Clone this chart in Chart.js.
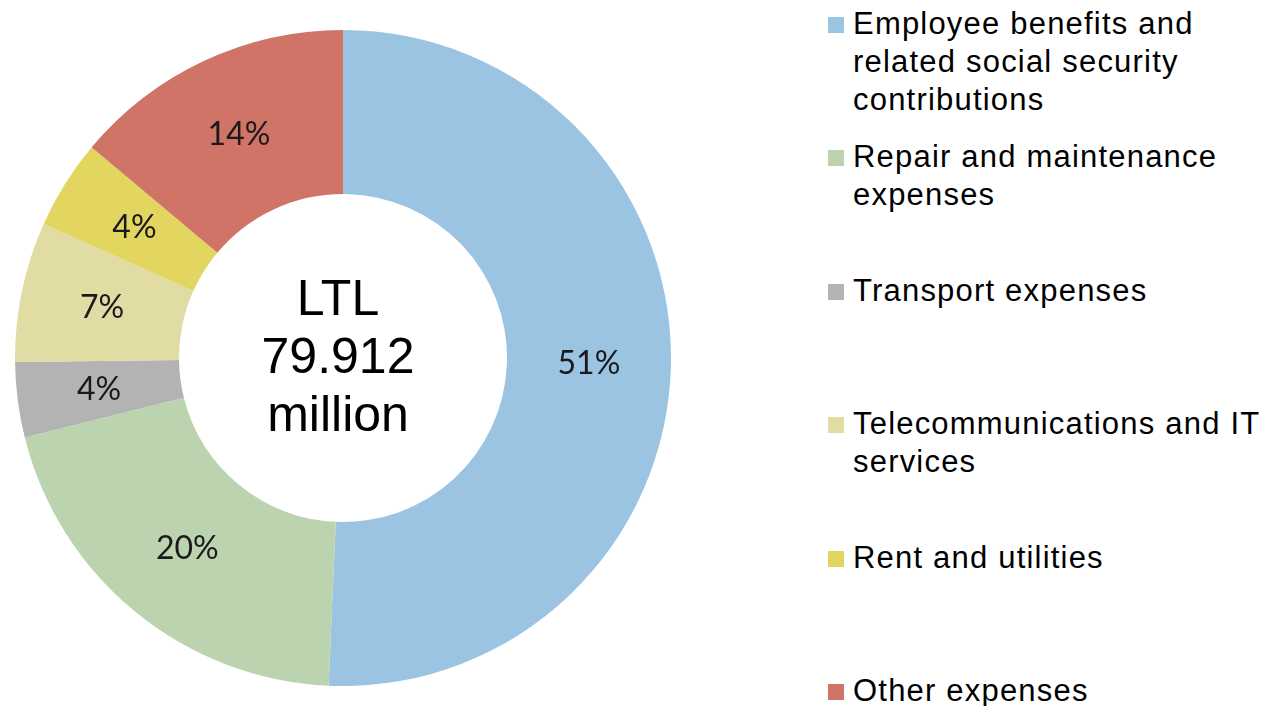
<!DOCTYPE html>
<html>
<head>
<meta charset="utf-8">
<script src="https://cdn.jsdelivr.net/npm/chart.js@4.4.0/dist/chart.umd.min.js"></script>
<style>
  html, body { margin: 0; padding: 0; background: #fff; }
  body { width: 1272px; height: 706px; position: relative; overflow: hidden; }
  #chartBox { position: absolute; left: 15px; top: 30px; width: 656px; height: 656px; }
  .legendItem { position: absolute; left: 828px; font-family: "Liberation Sans", Arial, sans-serif; font-size: 31px; line-height: 38px; letter-spacing: 1.2px; color: #000; }
  .legendItem .box { position: absolute; left: 0; top: 12px; width: 16px; height: 16px; }
  .legendItem .txt { margin-left: 25px; white-space: pre; }
</style>
</head>
<body>
<div id="chartBox"><canvas id="chart"></canvas></div>
<div id="legend"></div>
<script>
// data (percent of total expenses)
const categories = [
    "Employee benefits and\nrelated social security\ncontributions",
    "Repair and maintenance\nexpenses",
    "Transport expenses",
    "Telecommunications and IT\nservices",
    "Rent and utilities",
    "Other expenses"
];
const shares = [50.7, 20.4, 3.7, 6.9, 4.4, 13.9];
const colors = ["#9bc4e2", "#bcd3b0", "#b3b3b3", "#e1dca3", "#e2d560", "#d07467"];
const centerLines = ["LTL", "79.912", "million"];
const legendTops = [5, 138, 272, 405, 539, 672];

// legend built from the same arrays
const legend = document.getElementById("legend");
categories.forEach((name, i) => {
    const item = document.createElement("div");
    item.className = "legendItem";
    item.style.top = legendTops[i] + "px";
    item.innerHTML = `<span class="box" style="background:${colors[i]}"></span><div class="txt"></div>`;
    item.querySelector(".txt").textContent = name;
    legend.appendChild(item);
});

const sliceLabels = {
    id: "sliceLabels",
    afterDatasetsDraw(chart) {
        const ctx = chart.ctx;
        const meta = chart.getDatasetMeta(0);
        ctx.save();
        ctx.font = "32px Lato, 'Open Sans', sans-serif";
        ctx.fillStyle = "#1a1a1a";
        ctx.textAlign = "center";
        ctx.textBaseline = "middle";
        meta.data.forEach((arc, i) => {
            const pos = arc.tooltipPosition();
            ctx.fillText(Math.round(shares[i]) + "%", pos.x, pos.y);
        });
        // text in the hole
        const cx = meta.data[0].x, cy = meta.data[0].y;
        ctx.font = "50px 'Liberation Sans', Arial, sans-serif";
        ctx.fillStyle = "#000";
        centerLines.forEach((line, i) => {
            ctx.fillText(line, cx - 5, cy + 1 + (i - 1) * 58);
        });
        ctx.restore();
    }
};

new Chart(document.getElementById("chart"), {
    type: "doughnut",
    data: {
        labels: categories,
        datasets: [{
            data: shares,
            backgroundColor: colors,
            borderWidth: 0
        }]
    },
    options: {
        responsive: true,
        maintainAspectRatio: false,
        animation: false,
        cutout: "50%",
        plugins: {
            legend: { display: false },
            tooltip: { enabled: false }
        }
    },
    plugins: [sliceLabels]
});
</script>
</body>
</html>
